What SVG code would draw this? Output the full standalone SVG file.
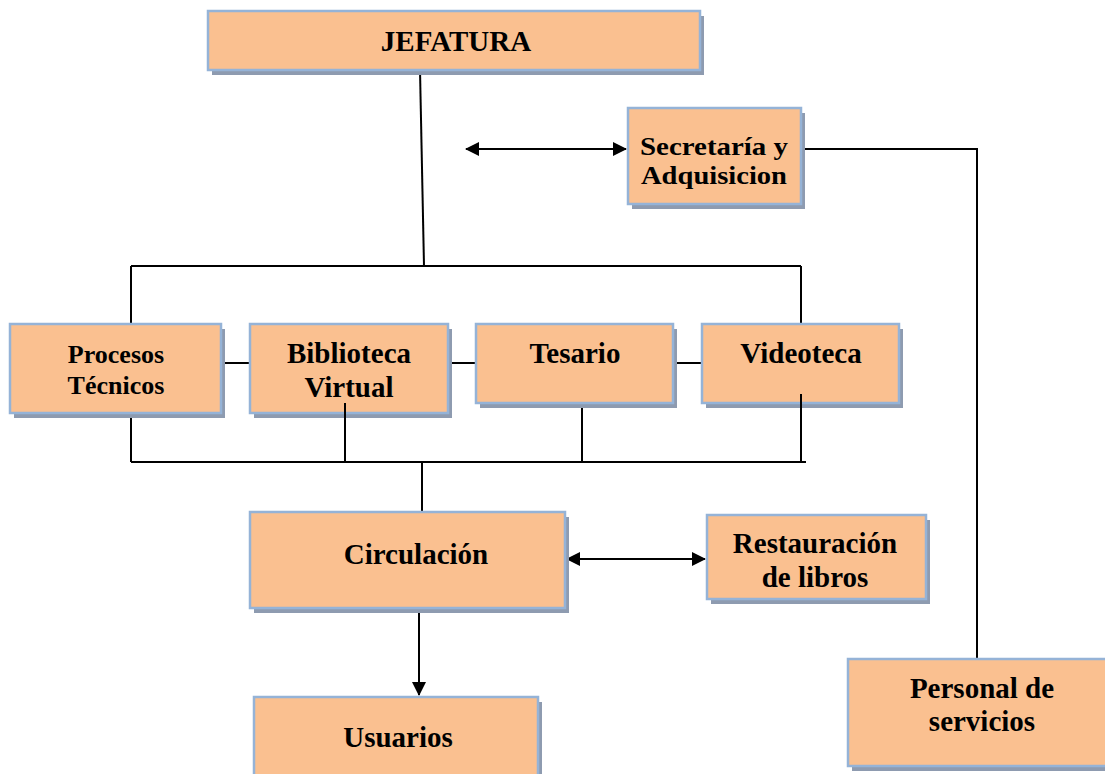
<svg xmlns="http://www.w3.org/2000/svg" width="1105" height="774" viewBox="0 0 1105 774">
<style>
.sh{fill:#8E9BB0}
.bx{fill:#FAC090;stroke:#95B3D7;stroke-width:2.5}
.t{font-family:"Liberation Serif","Times New Roman",serif;font-weight:bold;font-size:29px;fill:#000;text-anchor:middle}
.ln{stroke:#000;stroke-width:2;fill:none}
</style>
<defs>
<marker id="ah" markerUnits="userSpaceOnUse" markerWidth="14" markerHeight="14" refX="13" refY="7" orient="auto-start-reverse">
<path d="M0,0 L14,7 L0,14 z" fill="#000"/>
</marker>
</defs>
<g id="connectors-under">
<path class="ln" d="M420,70 L424,266"/>
<path class="ln" d="M131,266 H801"/>
<path class="ln" d="M131,266 V324"/>
<path class="ln" d="M801,266 V324"/>
<path class="ln" d="M466,149 H626" marker-start="url(#ah)" marker-end="url(#ah)"/>
<path class="ln" d="M801,149 H977 V659"/>
<path class="ln" d="M221,363 H250"/>
<path class="ln" d="M448,363 H476"/>
<path class="ln" d="M673,363 H702"/>
<path class="ln" d="M131,413 V462"/>
<path class="ln" d="M582,403 V462"/>
<path class="ln" d="M131,462 H806"/>
<path class="ln" d="M422,462 V512"/>
<path class="ln" d="M567,559 H705" marker-start="url(#ah)" marker-end="url(#ah)"/>
<path class="ln" d="M419,608 V695" marker-end="url(#ah)"/>
</g>
<g id="jefatura">
<rect class="sh" x="212" y="16" width="492" height="59"/>
<rect class="bx" x="208" y="11" width="492" height="59"/>
<text class="t" x="456" y="51" font-size="30">JEFATURA</text>
</g>
<g id="secretaria">
<rect class="sh" x="632" y="113" width="173" height="96"/>
<rect class="bx" x="628" y="108" width="173" height="96"/>
<text class="t" x="714" y="155" style="font-size:26px" textLength="148" lengthAdjust="spacingAndGlyphs">Secretaría y</text>
<text class="t" x="714" y="184" style="font-size:26px" textLength="146" lengthAdjust="spacingAndGlyphs">Adquisicion</text>
</g>
<g id="procesos">
<rect class="sh" x="14" y="329" width="211" height="89"/>
<rect class="bx" x="10" y="324" width="211" height="89"/>
<text class="t" x="116" y="363" style="font-size:26px">Procesos</text>
<text class="t" x="116" y="394" style="font-size:26px">Técnicos</text>
</g>
<g id="biblioteca">
<rect class="sh" x="254" y="329" width="198" height="89"/>
<rect class="bx" x="250" y="324" width="198" height="89"/>
<text class="t" x="349" y="363">Biblioteca</text>
<text class="t" x="349" y="397">Virtual</text>
</g>
<g id="tesario">
<rect class="sh" x="480" y="329" width="197" height="79"/>
<rect class="bx" x="476" y="324" width="197" height="79"/>
<text class="t" x="575" y="363">Tesario</text>
</g>
<g id="videoteca">
<rect class="sh" x="706" y="329" width="197" height="79"/>
<rect class="bx" x="702" y="324" width="197" height="79"/>
<text class="t" x="801" y="363">Videoteca</text>
</g>
<g id="circulacion">
<rect class="sh" x="254" y="517" width="315" height="96"/>
<rect class="bx" x="250" y="512" width="315" height="96"/>
<text class="t" x="416" y="564">Circulación</text>
</g>
<g id="restauracion">
<rect class="sh" x="711" y="520" width="219" height="84"/>
<rect class="bx" x="707" y="515" width="219" height="84"/>
<text class="t" x="815" y="553">Restauración</text>
<text class="t" x="815" y="587">de libros</text>
</g>
<g id="usuarios">
<rect class="sh" x="258" y="702" width="284" height="90"/>
<rect class="bx" x="254" y="697" width="284" height="90"/>
<text class="t" x="398" y="747">Usuarios</text>
</g>
<g id="personal">
<rect class="sh" x="852" y="664" width="270" height="107"/>
<rect class="bx" x="848" y="659" width="270" height="107"/>
<text class="t" x="982" y="698">Personal de</text>
<text class="t" x="982" y="731">servicios</text>
</g>
<g id="connectors-over">
<path class="ln" d="M345,403 V462"/>
<path class="ln" d="M801,394 V462"/>
</g>
</svg>
